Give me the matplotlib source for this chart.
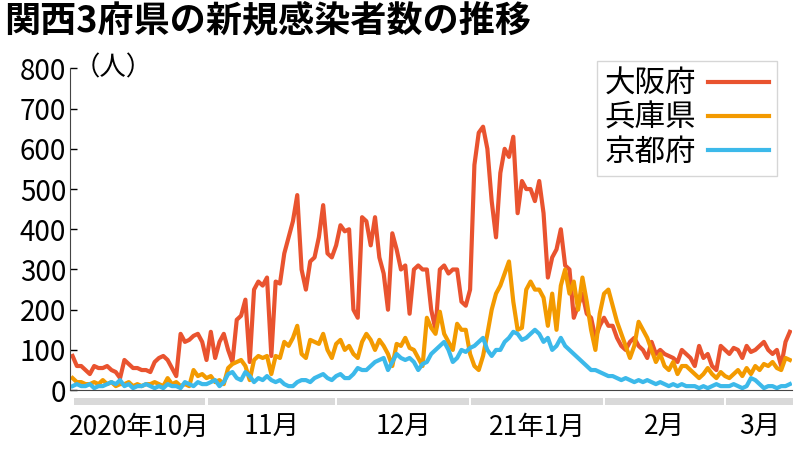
import numpy as np
import matplotlib.pyplot as plt
from matplotlib.patches import Rectangle
import matplotlib.transforms as mtransforms

plt.rcParams["font.family"] = "Noto Sans CJK JP"

# ====================================
# DATA (daily, 2020-10-01 .. 2021-03-16)
# ====================================

osaka = [85, 60, 60, 50, 40, 60, 55, 55, 60, 50, 45, 30, 75, 65, 55, 55, 50, 50, 45, 70, 80, 85, 75, 55, 35, 140, 120, 125, 135, 140, 120,
         75, 145, 80, 120, 140, 100, 70, 175, 185, 225, 70, 250, 270, 260, 280, 85, 270, 265, 340, 380, 420, 485, 300, 250, 320, 330, 380, 460, 340, 330,
         360, 410, 395, 400, 200, 180, 430, 420, 360, 430, 330, 290, 200, 390, 350, 300, 310, 190, 300, 310, 300, 300, 200, 150, 300, 310, 290, 300, 300, 220, 210,
         250, 560, 640, 655, 600, 470, 380, 540, 600, 580, 630, 440, 520, 500, 500, 470, 520, 440, 280, 330, 350, 400, 310, 300, 180, 210, 240, 190, 180, 130, 160,
         180, 160, 160, 130, 110, 100, 120, 130, 110, 100, 80, 120, 90, 100, 90, 85, 80, 70, 100, 90, 80, 60, 110, 80, 90, 60, 50, 110,
         100, 90, 105, 100, 80, 110, 95, 100, 110, 120, 100, 90, 100, 60, 120, 145]

hyogo = [30, 20, 20, 15, 15, 20, 15, 25, 15, 20, 10, 15, 15, 20, 10, 15, 10, 15, 15, 20, 15, 10, 30, 15, 20, 10, 15, 10, 50, 35, 40,
         30, 35, 20, 25, 15, 55, 65, 70, 75, 60, 25, 75, 85, 80, 85, 40, 85, 80, 120, 110, 130, 160, 90, 80, 125, 120, 115, 140, 100, 80,
         115, 125, 100, 110, 90, 80, 120, 140, 125, 100, 125, 110, 90, 60, 115, 110, 130, 105, 100, 80, 60, 180, 155, 140, 195, 140, 120, 100, 165, 150, 150,
         90, 60, 50, 85, 140, 200, 240, 260, 290, 320, 220, 150, 155, 250, 270, 250, 250, 230, 160, 240, 150, 260, 300, 240, 270, 200, 280, 220, 150, 100, 190,
         240, 250, 210, 170, 140, 110, 80, 110, 170, 150, 130, 100, 70, 90, 60, 50, 70, 40, 60, 60, 50, 40, 30, 40, 55, 40, 30, 45,
         35, 30, 40, 50, 35, 55, 40, 60, 50, 65, 60, 70, 55, 50, 80, 75]

kyoto = [10, 15, 10, 10, 15, 5, 10, 10, 15, 20, 15, 25, 10, 15, 5, 10, 10, 15, 10, 5, 10, 5, 15, 10, 10, 5, 20, 15, 10, 20, 15,
         15, 20, 25, 10, 20, 40, 45, 30, 25, 45, 35, 20, 30, 25, 35, 25, 20, 25, 15, 10, 10, 20, 25, 25, 20, 30, 35, 40, 30, 25,
         35, 40, 30, 30, 40, 55, 50, 50, 60, 70, 75, 80, 50, 70, 90, 80, 75, 80, 70, 50, 65, 70, 90, 100, 110, 120, 100, 70, 80, 100, 95,
         105, 110, 120, 130, 100, 85, 100, 100, 120, 130, 145, 140, 125, 130, 140, 150, 140, 120, 130, 100, 110, 130, 110, 100, 90, 80, 70, 60, 50, 50, 45,
         40, 35, 35, 30, 25, 30, 25, 20, 25, 20, 25, 20, 15, 20, 15, 10, 15, 10, 15, 10, 10, 10, 5, 10, 5, 10, 15, 10,
         10, 10, 15, 10, 5, 10, 30, 25, 15, 5, 10, 10, 5, 10, 10, 15]

series_names = ["大阪府", "兵庫県", "京都府"]
colors = ["#E9532F", "#F39A00", "#3CB9EA"]

month_labels = ["2020年10月", "11月", "12月", "21年1月", "2月", "3月"]
month_days = [31, 30, 31, 31, 28, 16]

# ====================================
# PLOT
# ====================================

fig = plt.figure(figsize=(8, 4.5), dpi=100)
ax = fig.add_axes([0.088, 0.133, 0.902, 0.715])

for vals, name, c in zip([osaka, hyogo, kyoto], series_names, colors):
    ax.plot(np.arange(len(vals)), vals, color=c, lw=3, label=name, solid_joinstyle="round")

n = max(len(osaka), len(hyogo), len(kyoto))
ax.set_xlim(-0.5, n - 0.5)
ax.set_ylim(0, 800)
ax.set_yticks(range(0, 801, 100))
ax.tick_params(axis="y", labelsize=20, length=5, width=1, direction="in", pad=3)
ax.set_xticks([])
for s in ["top", "right"]:
    ax.spines[s].set_visible(False)
ax.spines["left"].set_color("#444444")
ax.spines["bottom"].set_color("#444444")

# month bands
trans = mtransforms.blended_transform_factory(ax.transData, ax.transAxes)
start = 0
for lab, d in zip(month_labels, month_days):
    ax.add_patch(Rectangle((start + 0.3, -0.045), d - 0.6, 0.022, transform=trans,
                           color="#d9d9d9", clip_on=False, lw=0))
    ax.text(start + d / 2, -0.075, lab, transform=trans, ha="center", va="top", fontsize=19)
    start += d

ax.text(0.005, 1.0, "（人）", transform=ax.transAxes, fontsize=19, va="center", ha="left")

leg = ax.legend(loc="upper right", bbox_to_anchor=(1.0, 1.07), fontsize=22, frameon=True,
                fancybox=False, markerfirst=False, handlelength=2.0, borderpad=0.25,
                labelspacing=0.1, handletextpad=0.4)
leg.get_frame().set_edgecolor("#cccccc")
leg.get_frame().set_linewidth(1)

fig.text(0.005, 0.995, "関西3府県の新規感染者数の推移", fontsize=26, fontweight="bold", va="top", ha="left")

fig.savefig("out.png", dpi=100)
